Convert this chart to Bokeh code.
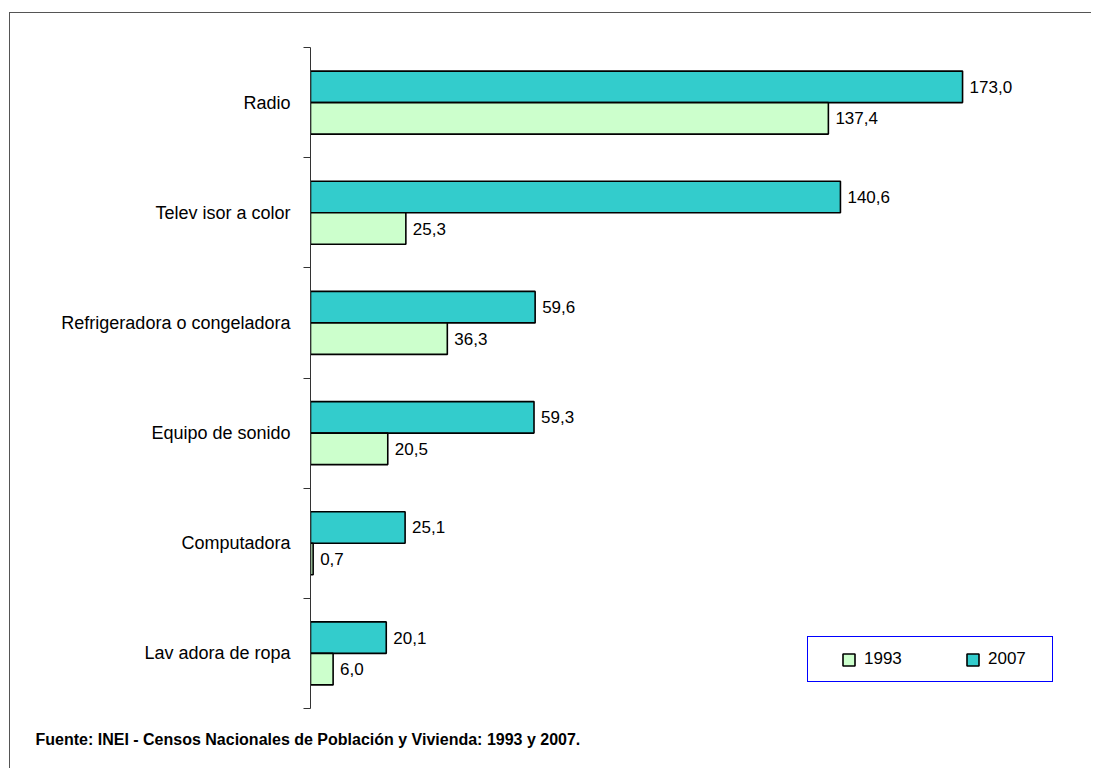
from bokeh.plotting import figure
from bokeh.models import (Range1d, LinearAxis, FixedTicker, ColumnDataSource,
                          Legend, LegendItem, Title)
from bokeh.core.properties import value
from bokeh.embed import file_html
from bokeh.resources import INLINE

# ---- data (top to bottom as in the reference) ----
categories = ["Radio", "Telev isor a color", "Refrigeradora o congeladora",
              "Equipo de sonido", "Computadora", "Lav adora de ropa"]
values_1993 = [137.4, 25.3, 36.3, 20.5, 0.7, 6.0]
values_2007 = [173.0, 140.6, 59.6, 59.3, 25.1, 20.1]
series_names = ["1993", "2007"]
source_text = "Fuente: INEI - Censos Nacionales de Población y Vivienda: 1993 y 2007."

FONT = "Liberation Sans"
C1993 = "#CCFFCC"
C2007 = "#33CCCC"

n = len(categories)
bh = 0.286
off = 0.143

def fmt(v):
    return f"{v:.1f}".replace(".", ",")

# category slot i (top first) -> centre at n - i - 0.5 on the y scale
centers = [n - i - 0.5 for i in range(n)]
bounds = list(range(n + 1))
src = ColumnDataSource(dict(
    cat=categories,
    y07=[c + off for c in centers],
    y93=[c - off for c in centers],
    v1993=values_1993,
    v2007=values_2007,
    l1993=[fmt(v) for v in values_1993],
    l2007=[fmt(v) for v in values_2007],
))

p = figure(width=1082, height=756, output_backend="svg", toolbar_location=None,
           x_range=Range1d(0, 202.7), y_range=Range1d(0, n),
           x_axis_location=None, y_axis_location=None,
           min_border_left=300, min_border_top=34, min_border_bottom=61, min_border_right=18)
p.outline_line_color = None
p.grid.visible = False
p.background_fill_color = "white"
p.border_fill_color = "white"
p.styles = {"margin-left": "9px", "margin-top": "12px",
            "border-left": "1px solid #555555", "border-top": "1px solid #555555"}

# category axis: labels at centres, tick marks (minor) at category boundaries
cat_axis = LinearAxis(ticker=FixedTicker(ticks=centers, minor_ticks=bounds),
                      major_label_overrides={c: name for c, name in zip(centers, categories)},
                      axis_line_color="#333333", axis_line_width=1,
                      major_tick_line_color=None, major_tick_out=0, major_tick_in=0,
                      minor_tick_line_color="#333333", minor_tick_out=7, minor_tick_in=0,
                      major_label_text_font=FONT, major_label_text_font_size="18px",
                      major_label_text_color="#000000", major_label_standoff=13)
p.add_layout(cat_axis, "left")

r07 = p.hbar(y="y07", left=0, right="v2007", height=bh,
             source=src, fill_color=C2007, line_color="black", line_width=1.6)
r93 = p.hbar(y="y93", left=0, right="v1993", height=bh,
             source=src, fill_color=C1993, line_color="black", line_width=1.6)

p.text(x="v2007", y="y07", text="l2007", source=src,
       x_offset=7, text_baseline="middle", text_align="left",
       text_font=value(FONT), text_font_size="17px", text_color="black")
p.text(x="v1993", y="y93", text="l1993", source=src,
       x_offset=7, text_baseline="middle", text_align="left",
       text_font=value(FONT), text_font_size="17px", text_color="black")

legend = Legend(items=[LegendItem(label=series_names[0], renderers=[r93]),
                       LegendItem(label=series_names[1], renderers=[r07])],
                location=(497, 26), orientation="horizontal",
                glyph_width=15, glyph_height=15, label_standoff=8,
                label_width=52, spacing=49, padding=12,
                title="\u00a0", title_location="left", title_standoff=10,
                title_text_font_size="10px",
                label_text_font=FONT, label_text_font_size="17px", label_text_color="black",
                border_line_color="#0000FF", border_line_width=1.2, border_line_alpha=1,
                background_fill_color="white", background_fill_alpha=1)
p.add_layout(legend, "center")

title = Title(text=source_text, align="left", offset=-275, standoff=41,
              text_font=FONT, text_font_style="bold", text_font_size="16px",
              text_color="black")
p.add_layout(title, "below")

open("out.html", "w").write(file_html(p, INLINE))
